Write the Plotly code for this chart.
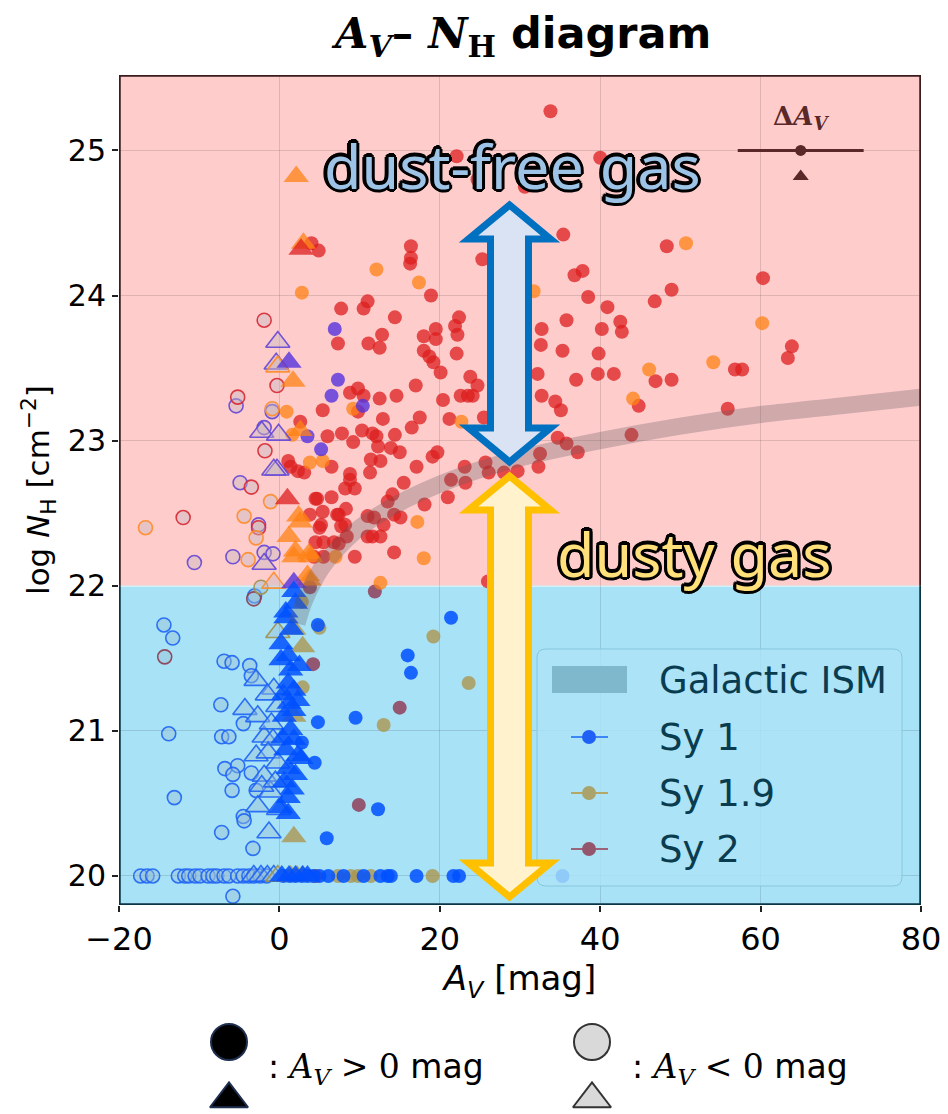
import numpy as np
import plotly.graph_objects as go

W, H = 948, 1114
NH_SPLIT = 22.0  # log N_H boundary between the dusty and dust-free zones

# ---------------- data: (A_V [mag], log N_H [cm^-2]) ----------------
# Seyfert 2, A_V > 0 (circles)
sy2_av = [22.1, 40.0, 24.7, 30.6, 33.8, 35.4, 4.0, 4.9, 16.4, 16.4, 16.3, 25.3, 48.3, 36.8, 37.8, 18.9, 38.5,
          48.9, 46.8, 60.3, 7.7, 11.0, 10.5, 14.4, 40.9, 22.4, 21.9, 22.2, 19.5, 19.5, 18.0, 35.8, 42.5, 42.7,
          40.2, 32.7, 63.9, 63.4, 7.3, 11.1, 12.8, 12.5, 32.6, 35.3, 22.1, 18.0, 18.7, 19.2, 39.8, 20.1, 23.8,
          24.7, 32.2, 39.7, 41.7, 37.0, 46.9, 48.9, 56.8, 57.7, 17.0, 8.8, 9.8, 10.5, 12.5, 14.6, 20.4, 22.6,
          23.5, 24.1, 32.7, 34.4, 35.1, 44.8, 55.9, 5.4, 9.8, 2.6, 6.0, 7.8, 9.2, 10.3, 11.6, 12.1, 12.9, 12.3,
          14.4, 13.9, 15.0, 16.5, 17.5, 21.2, 25.5, 11.4, 12.6, 17.1, 19.1, 19.7, 8.8, 11.3, 6.5, 23.1, 25.7,
          26.1, 28.0, 29.7, 32.5, 32.3, 34.7, 35.8, 37.2, 43.9, 1.1, 1.4, 2.3, 3.1, 15.5, 21.4, 23.2, 8.2, 9.4,
          4.5, 6.5, 14.1, 13.5, 5.4, 18.1, 21.0, 7.4, 8.2, 7.7, 11.0, 11.8, 13.0, 15.1, 14.3, 5.0, 8.3, 11.0,
          11.6, 12.6, 8.4, 4.5, 5.5, 6.8, 7.4, 5.5, 9.4, 14.3, 26.0, 4.7, 8.8, 4.3, 3.8, 5.2, 7.2,
          3.8, 11.9, 4.2, 15.0, 9.9, 4.5]
sy2_nh = [24.96, 24.95, 24.80, 24.75, 25.27, 24.42, 24.36, 24.31, 24.34, 24.26, 24.22, 24.25, 24.34, 24.14, 24.17,
          24.00, 23.99, 24.04, 23.96, 24.12, 23.91, 23.96, 23.91, 23.85, 23.92, 23.85, 23.79, 23.73, 23.77, 23.70,
          23.72, 23.83, 23.82, 23.75, 23.77, 23.77, 23.65, 23.57, 23.67, 23.67, 23.73, 23.64, 23.66, 23.62, 23.60,
          23.62, 23.58, 23.54, 23.60, 23.47, 23.44, 23.38, 23.46, 23.46, 23.46, 23.42, 23.41, 23.42, 23.49, 23.49,
          23.38, 23.33, 23.36, 23.31, 23.29, 23.31, 23.28, 23.31, 23.31, 23.31, 23.31, 23.27, 23.21, 23.24, 23.22,
          23.21, 23.20, 23.13, 23.03, 23.05, 22.99, 23.07, 23.05, 23.03, 23.15, 22.96, 23.04, 22.95, 22.92, 23.09,
          23.16, 23.15, 23.16, 22.87, 22.86, 22.82, 22.89, 22.92, 22.77, 22.78, 22.82, 22.82, 22.85, 22.78, 22.78,
          22.79, 22.91, 22.82, 23.02, 22.98, 22.92, 23.04, 22.86, 22.82, 22.79, 22.78, 22.71, 22.73, 22.71, 22.67,
          22.67, 22.60, 22.61, 22.63, 22.58, 22.51, 22.56, 22.61, 22.49, 22.42, 22.41, 22.48, 22.47, 22.42, 22.47,
          22.49, 22.40, 22.53, 22.34, 22.34, 22.34, 22.34, 22.30, 22.30, 22.30, 22.29, 22.20, 22.20, 22.23, 22.03,
          22.60, 22.73, 22.20, 22.49, 22.42, 22.49,
          21.99, 21.96, 21.46, 21.16, 20.49, 20.00]

# Seyfert 1.9, A_V > 0 (circles)
sy19_av = [50.7, 12.1, 17.4, 31.7, 2.8, 9.2, 46.1, 54.1, 44.1, 22.7, 0.9, 1.6, 3.8, 5.4, 17.2, 18.0, 7.0, 12.6, 60.2,
           5.0, 19.2, 23.6, 13.0, 2.8, 2.9, 7.3, 8.9, 9.8, 11.4, 19.1]
sy19_nh = [24.36, 24.18, 24.09, 24.03, 24.02, 23.22, 23.49, 23.54, 23.29, 23.13, 23.20, 23.04, 22.85, 22.86, 22.44,
           22.19, 22.20, 22.02, 23.81,
           21.71, 21.65, 21.33, 21.04, 21.89, 21.30, 20.00, 20.00, 20.00, 20.00, 20.00]

# Seyfert 1, A_V > 0 (circles)
sy1_av = [6.9, 7.3, 6.5, 10.4, 3.5, 5.2,
          21.4, 16.0, 16.4, 4.8, 9.5, 4.8, 2.8, 4.4, 12.3, 5.9,
          0.5, 1.3, 2.0, 2.8, 3.5, 4.2, 5.0, 6.1, 8.0, 10.5, 12.6, 13.5, 13.9, 17.1, 21.7, 22.4, 35.3]
sy1_nh = [23.77, 23.42, 23.31, 23.24, 23.03, 22.94,
          21.78, 21.52, 21.40, 21.73, 21.09, 21.06, 20.92, 20.78, 20.46, 20.26,
          20.00, 20.00, 20.00, 20.00, 20.00, 20.00, 20.00, 20.00, 20.00, 20.00, 20.00, 20.00, 20.00, 20.00,
          20.00, 20.00, 20.00]

# A_V > 0, second sample (triangles)
sy1_tri_av = [1.2, 1.8, 1.8, 0.8, 0.8, 0.2, 1.1, 0.2, 1.4, 1.1, 1.8, 2.3, 1.2, 1.8, 0.6, 1.4, 1.8, 0.8, 2.3, 2.7,
              1.1, 0.6, 1.1, 0.2, 1.1, 2.0, 1.5, 2.5, 0.5, 2.0, 1.6, 0.4, 0.3, 1.2, 2.0, 2.9, 3.5]
sy1_tri_nh = [23.54, 22.02, 21.96, 21.82, 21.78, 21.60, 21.52, 21.49, 21.42, 21.33, 21.28, 21.21, 21.19, 21.14,
              21.10, 21.01, 20.94, 20.87, 20.83, 20.81, 20.74, 20.65, 20.54, 20.47, 20.43, 21.88, 21.70, 21.45,
              21.25, 20.70, 20.60, 20.95, 20.00, 20.00, 20.00, 20.00, 20.00]
sy19_tri_av = [2.1, 3.0, 1.7, 2.6, 2.4, 1.2, 2.0, 3.7, 3.5, 2.6, 1.8, 3.9, 3.7, 2.9, 1.8, 1.8, 1.8, 1.4, 2.2, 2.9]
sy19_tri_nh = [24.82, 24.36, 23.41, 23.07, 22.48, 22.34, 22.24, 22.22, 22.07, 22.44, 22.20, 22.20, 22.04,
               21.58, 21.10, 20.27, 21.70, 20.00, 20.00, 20.00]
sy2_tri_av = [2.7, 1.0]
sy2_tri_nh = [24.32, 22.60]

# A_V < 0 (open circles)
sy1_neg_av = [-5.4, -0.9, -1.9, -4.9, -2.6, -10.6, -5.8, -1.9, -0.8,
              -3.1, -14.4, -13.3, -6.9, -5.9, -3.7, -3.5, -7.3, -13.8, -4.5, -7.2, -6.3, -6.8, -5.2, -5.8, -3.5,
              -5.9, -2.9, -13.1, -4.5, -4.4, -7.2, -3.3, -5.8,
              -17.3, -16.5, -15.8, -12.6, -11.8, -11.3, -10.5, -9.9, -8.9, -8.3, -7.8, -6.9, -6.3, -5.2, -4.5,
              -3.8, -3.2, -2.4, -1.6]
sy1_neg_nh = [23.24, 23.20, 23.09, 22.71, 22.42, 22.16, 22.20, 22.23, 22.22,
              21.93, 21.73, 21.64, 21.48, 21.47, 21.45, 21.38, 21.18, 20.98, 21.05, 20.96, 20.96, 20.74, 20.76,
              20.70, 20.71, 20.59, 20.59, 20.54, 20.41, 20.38, 20.30, 20.19, 19.86,
              20.00, 20.00, 20.00, 20.00, 20.00, 20.00, 20.00, 20.00, 20.00, 20.00, 20.00, 20.00, 20.00, 20.00,
              20.00, 20.00, 20.00, 20.00, 20.00]
sy2_neg_av = [-1.9, -5.2, -0.3, -1.8, -3.5, -12.0, -2.6, -14.3, -3.2]
sy2_neg_nh = [23.83, 23.30, 23.38, 22.93, 22.68, 22.47, 22.40, 21.51, 21.91]
sy19_neg_av = [-0.9, -1.1, -4.4, -2.9, -16.7, -3.9, -2.3]
sy19_neg_nh = [23.22, 22.58, 22.48, 22.33, 22.40, 22.18, 21.99]

# A_V < 0 (open triangles)
sy1_negtri_av = [-0.2, -0.4, -2.2, -0.1, -0.3, -0.7, -1.9, -2.9, -4.3, -2.7, -0.7, -0.2, -1.9, -0.8, -2.9, -1.4,
                 -0.2, -1.9, -1.1, -2.7, -0.1, -1.3, -1.5, -1.0, -2.2, -0.5, -3.2, -2.3, -1.5, -0.7]
sy1_negtri_nh = [23.68, 23.53, 23.06, 23.04, 22.80, 22.80, 22.15, 21.35, 21.15, 21.10, 21.29, 21.17, 20.96,
                 20.94, 20.83, 20.85, 20.78, 20.69, 20.58, 20.48, 20.46, 20.30, 21.25, 21.05, 20.62, 20.65,
                 20.00, 20.00, 20.00, 20.00]
sy19_negtri_av = [-0.2, -0.7, -0.2, -0.2]
sy19_negtri_nh = [23.51, 22.02, 21.68, 20.00]

# Galactic ISM relation (A_V, log N_H)
ism_av = [2.2, 3, 4, 5, 6.5, 8, 10, 13, 16, 20, 25, 30, 40, 50, 60, 70, 80]
ism_nh = [21.74, 21.88, 22.00, 22.10, 22.21, 22.30, 22.40, 22.51, 22.60, 22.70, 22.80, 22.88, 23.00, 23.10,
          23.18, 23.24, 23.30]

# typical uncertainty marker
err_av, err_nh, err_half = 65.0, 25.0, 7.85
err_tri_av, err_tri_nh = 65.0, 24.82

legend_labels = ["Galactic ISM", "Sy 1", "Sy 1.9", "Sy 2"]

# ---------------- styles ----------------
PINK_BG = "#ffcccc"
BLUE_BG = "#a8e2f6"
FILL = {
    "sy1": {"pink": "rgba(85,50,220,0.8)", "blue": "rgba(0,80,255,0.85)"},
    "sy19": {"pink": "rgba(255,130,20,0.75)", "blue": "rgba(170,150,80,0.8)"},
    "sy2": {"pink": "rgba(220,30,30,0.75)", "blue": "rgba(140,40,70,0.75)"},
}
EDGE = {
    "sy1": {"pink": "rgba(100,70,215,0.9)", "blue": "rgba(30,100,245,0.9)"},
    "sy19": {"pink": "rgba(255,140,40,0.9)", "blue": "rgba(160,145,75,0.9)"},
    "sy2": {"pink": "rgba(215,40,50,0.9)", "blue": "rgba(140,60,80,0.9)"},
}
OPEN_FILL = {"pink": "rgba(200,185,190,0.45)", "blue": "rgba(150,190,215,0.45)"}
SANS = "DejaVu Sans"
SERIF = "DejaVu Serif"
DARK = "#5a2828"

fig = go.Figure()


def add_points(av, nh, kind, symbol, filled, size):
    av = np.asarray(av, float)
    nh = np.asarray(nh, float)
    upper = nh >= NH_SPLIT
    for region, mask in (("pink", upper), ("blue", ~upper)):
        if not mask.any():
            continue
        if filled:
            marker = dict(symbol=symbol, size=size, color=FILL[kind][region], line=dict(width=0))
        else:
            marker = dict(symbol=symbol, size=size, color=OPEN_FILL[region],
                          line=dict(width=1.6, color=EDGE[kind][region]))
        fig.add_trace(go.Scatter(x=av[mask], y=nh[mask], mode="markers", marker=marker,
                                 showlegend=False, hoverinfo="skip"))


add_points(sy2_av, sy2_nh, "sy2", "circle", True, 14)
add_points(sy19_av, sy19_nh, "sy19", "circle", True, 14)
add_points(sy1_av, sy1_nh, "sy1", "circle", True, 14)
add_points(sy1_neg_av, sy1_neg_nh, "sy1", "circle", False, 14)
add_points(sy2_neg_av, sy2_neg_nh, "sy2", "circle", False, 14)
add_points(sy19_neg_av, sy19_neg_nh, "sy19", "circle", False, 14)
add_points(sy1_negtri_av, sy1_negtri_nh, "sy1", "triangle-up", False, 21)
add_points(sy19_negtri_av, sy19_negtri_nh, "sy19", "triangle-up", False, 21)
add_points(sy19_tri_av, sy19_tri_nh, "sy19", "triangle-up", True, 22)
add_points(sy2_tri_av, sy2_tri_nh, "sy2", "triangle-up", True, 22)
add_points(sy1_tri_av, sy1_tri_nh, "sy1", "triangle-up", True, 22)

# Galactic ISM band
fig.add_trace(go.Scatter(x=ism_av, y=ism_nh, mode="lines",
                         line=dict(color="rgba(100,90,95,0.3)", width=17, shape="spline"),
                         showlegend=False, hoverinfo="skip"))

# typical uncertainty
fig.add_trace(go.Scatter(x=[err_av], y=[err_nh], mode="markers",
                         marker=dict(symbol="circle", size=11, color=DARK),
                         error_x=dict(type="constant", value=err_half, color=DARK, thickness=3, width=0),
                         showlegend=False, hoverinfo="skip"))
fig.add_trace(go.Scatter(x=[err_tri_av], y=[err_tri_nh], mode="markers",
                         marker=dict(symbol="triangle-up", size=14, color=DARK),
                         showlegend=False, hoverinfo="skip"))
fig.add_annotation(x=err_av, y=err_nh, yshift=33, text="<b>Δ<i>A</i><sub><i>V</i></sub></b>",
                   showarrow=False, font=dict(family=SERIF, size=26, color=DARK))

# bottom key: filled vs grey symbols (figure pixel axes)
fig.add_trace(go.Scatter(x=[229, 229], y=[1042, 1099], xaxis="x2", yaxis="y2", mode="markers",
                         marker=dict(symbol=["circle", "triangle-up"], size=[36, 33], color="black",
                                     opacity=1, line=dict(color="#1f2f4f", width=2)),
                         showlegend=False, hoverinfo="skip", cliponaxis=False))
fig.add_trace(go.Scatter(x=[592, 592], y=[1042, 1099], xaxis="x2", yaxis="y2", mode="markers",
                         marker=dict(symbol=["circle", "triangle-up"], size=[36, 33], color="#d9d9d9",
                                     opacity=1, line=dict(color="#333333", width=2)),
                         showlegend=False, hoverinfo="skip", cliponaxis=False))
key_font = dict(family=SANS, size=33, color="black")
fig.add_annotation(x=266, y=1068, xref="x2", yref="y2", xanchor="left", showarrow=False, font=key_font,
                   text=": <span style='font-family:DejaVu Serif'><i>A</i><sub><i>V</i></sub> &gt; 0</span> mag")
fig.add_annotation(x=630, y=1068, xref="x2", yref="y2", xanchor="left", showarrow=False, font=key_font,
                   text=": <span style='font-family:DejaVu Serif'><i>A</i><sub><i>V</i></sub> &lt; 0</span> mag")

# ---------------- shapes ----------------
shapes = []
# background zones
shapes.append(dict(type="rect", xref="x", yref="y", x0=-20, x1=80, y0=NH_SPLIT, y1=25.52,
                   fillcolor=PINK_BG, line=dict(width=0), layer="below"))
shapes.append(dict(type="rect", xref="x", yref="y", x0=-20, x1=80, y0=19.8, y1=NH_SPLIT,
                   fillcolor=BLUE_BG, line=dict(width=0), layer="below"))
shapes.append(dict(type="line", xref="x", yref="y", x0=-20, x1=80, y0=NH_SPLIT, y1=NH_SPLIT,
                   line=dict(color="white", width=1.5), layer="below"))

# frame
FR_TOP, FR_BOT = "#3a1c1c", "#0b3444"
for x in (-20, 80):
    shapes.append(dict(type="line", xref="x", yref="y", x0=x, x1=x, y0=NH_SPLIT, y1=25.52,
                       line=dict(color=FR_TOP, width=3.5), layer="above"))
    shapes.append(dict(type="line", xref="x", yref="y", x0=x, x1=x, y0=19.8, y1=NH_SPLIT,
                       line=dict(color=FR_BOT, width=3.5), layer="above"))
shapes.append(dict(type="line", xref="x", yref="y", x0=-20, x1=80, y0=25.52, y1=25.52,
                   line=dict(color=FR_TOP, width=3.5), layer="above"))
shapes.append(dict(type="line", xref="x", yref="y", x0=-20, x1=80, y0=19.8, y1=19.8,
                   line=dict(color=FR_BOT, width=3.5), layer="above"))


def rounded_rect(x0, y0, x1, y1, r):
    return (f"M{x0 + r},{y0} L{x1 - r},{y0} Q{x1},{y0} {x1},{y0 + r} L{x1},{y1 - r} Q{x1},{y1} {x1 - r},{y1} "
            f"L{x0 + r},{y1} Q{x0},{y1} {x0},{y1 - r} L{x0},{y0 + r} Q{x0},{y0} {x0 + r},{y0} Z")


# legend panel (pixel coordinates)
shapes.append(dict(type="path", xref="x2", yref="y2", path=rounded_rect(537, 649, 902, 886, 9),
                   fillcolor="rgba(172,228,247,0.8)", line=dict(color="rgba(135,198,222,1)", width=1),
                   layer="above"))
shapes.append(dict(type="rect", xref="x2", yref="y2", x0=552, x1=627, y0=666, y1=693,
                   fillcolor="#7fb8cc", line=dict(width=0), layer="above"))
legend_rows = [(737, "#3d86f5", "#1f60f5"), (793, "#b5a865", "#aaa36c"), (849, "#9c6478", "#94566c")]
for yy, lc, mc in legend_rows:
    shapes.append(dict(type="line", xref="x2", yref="y2", x0=571, x1=608, y0=yy, y1=yy,
                       line=dict(color=lc, width=2), layer="above"))
    shapes.append(dict(type="circle", xref="x2", yref="y2", x0=582, x1=596, y0=yy - 7, y1=yy + 7,
                       fillcolor=mc, line=dict(width=0), layer="above"))
for yy, label in zip([680, 737, 793, 849], legend_labels):
    fig.add_annotation(x=657, y=yy, xref="x2", yref="y2", xanchor="left", yanchor="middle", text=label,
                       showarrow=False, font=dict(family=SANS, size=37, color="#0a3c50"))


def double_arrow(cx, ytop, ybot, sw, hw, hh):
    pts = [(cx, ytop), (cx + hw, ytop + hh), (cx + sw, ytop + hh), (cx + sw, ybot - hh), (cx + hw, ybot - hh),
           (cx, ybot), (cx - hw, ybot - hh), (cx - sw, ybot - hh), (cx - sw, ytop + hh), (cx - hw, ytop + hh)]
    return "M" + " L".join(f"{x},{y}" for x, y in pts) + " Z"


shapes.append(dict(type="path", xref="x2", yref="y2", path=double_arrow(509.5, 476, 897, 19, 41, 34),
                   fillcolor="#fff2cc", line=dict(color="#ffc000", width=7), layer="above"))
shapes.append(dict(type="path", xref="x2", yref="y2", path=double_arrow(509.5, 205, 462, 19, 41, 34),
                   fillcolor="#dae3f3", line=dict(color="#0070c0", width=7), layer="above"))
fig.update_layout(shapes=shapes)


def outlined_text(x, y, text, fill, size):
    # black halo built from shifted copies, then the coloured face on top
    for k in range(12):
        ang = 2 * np.pi * k / 12
        fig.add_annotation(x=x, y=y, xref="x2", yref="y2", text=text, showarrow=False,
                           xshift=3.2 * np.cos(ang), yshift=3.2 * np.sin(ang),
                           font=dict(family="Noto Sans", size=size, color="black"))
    fig.add_annotation(x=x, y=y, xref="x2", yref="y2", text=text, showarrow=False,
                       font=dict(family="Noto Sans", size=size, color=fill))


outlined_text(512, 165, "dust-free gas", "#9dc3e6", 61)
outlined_text(694, 553, "dusty gas", "#ffe07a", 61)

# title
fig.add_annotation(x=521, y=36, xref="x2", yref="y2", showarrow=False,
                   text="<b><span style='font-family:DejaVu Serif'><i>A</i><sub><i>V</i></sub>– "
                        "<i>N</i><sub>H</sub></span> diagram</b>",
                   font=dict(family=SANS, size=43, color="black"))

GRID = "rgba(0,0,0,0.12)"
fig.update_layout(
    width=W, height=H, margin=dict(l=0, r=0, t=0, b=0, autoexpand=False),
    paper_bgcolor="white", plot_bgcolor="rgba(0,0,0,0)", showlegend=False,
    xaxis=dict(domain=[119 / W, 921 / W], range=[-20, 80], anchor="y", tick0=0, dtick=20,
               automargin=False,
               showgrid=True, gridcolor=GRID, gridwidth=1, zeroline=False, showline=False,
               ticks="outside", ticklen=6, tickwidth=1.5, tickcolor="#222",
               tickfont=dict(family=SANS, size=32, color="black"),
               title=dict(text="<i>A</i><sub><i>V</i></sub> [mag]", standoff=4,
                          font=dict(family=SANS, size=34, color="black"))),
    yaxis=dict(domain=[1 - 905 / H, 1 - 75 / H], range=[19.8, 25.52], anchor="x", tick0=20, dtick=1,
               automargin=False,
               showgrid=True, gridcolor=GRID, gridwidth=1, zeroline=False, showline=False,
               ticks="outside", ticklen=6, tickwidth=1.5, tickcolor="#222",
               tickfont=dict(family=SANS, size=30, color="black"),
               title=dict(text="log <i>N</i><sub>H</sub> [cm<sup>−2</sup>]", standoff=8,
                          font=dict(family=SANS, size=31, color="black"))),
    xaxis2=dict(domain=[0, 1], range=[0, W], anchor="y2", visible=False, fixedrange=True),
    yaxis2=dict(domain=[0, 1], range=[H, 0], anchor="x2", visible=False, fixedrange=True),
)

fig.write_html("out.html")
